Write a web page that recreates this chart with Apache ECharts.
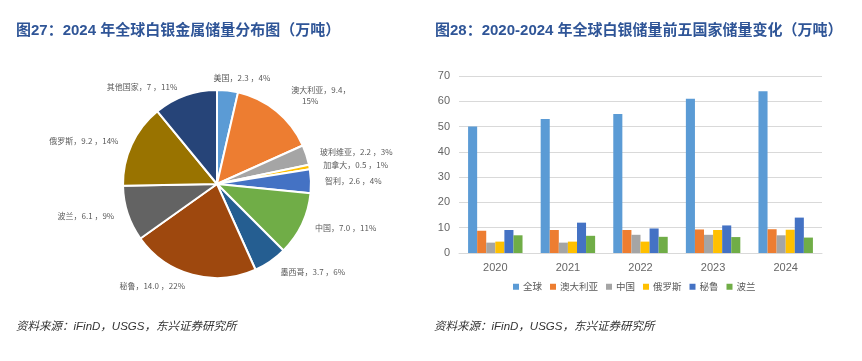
<!DOCTYPE html>
<html>
<head>
<meta charset="utf-8">
<script src="https://cdn.jsdelivr.net/npm/echarts@6/dist/echarts.min.js"></script>
<style>
html,body{margin:0;padding:0;background:#fff;}
#c{width:862px;height:361px;}
</style>
</head>
<body>
<div id="c"></div>
<script>
// ---- Left: pie data ----
const pieNames = ['美国','澳大利亚','玻利维亚','加拿大','智利','中国','墨西哥','秘鲁','波兰','俄罗斯','其他国家'];
const pieValues = [2.3, 9.4, 2.2, 0.5, 2.6, 7.0, 3.7, 14.0, 6.1, 9.2, 7];
const pieValueText = ['2.3','9.4','2.2','0.5','2.6','7.0','3.7','14.0','6.1','9.2','7'];
const pieColors = ['#5B9BD5','#ED7D31','#A5A5A5','#FFC000','#4472C4','#70AD47','#255E91','#9E480E','#636363','#997300','#264478'];

// ---- Right: bar data ----
const years = ['2020','2021','2022','2023','2024'];
const barSeriesNames = ['全球','澳大利亚','中国','俄罗斯','秘鲁','波兰'];
const globalVals    = [50, 53, 55, 61, 64];
const australiaVals = [8.8, 9.1, 9.1, 9.3, 9.4];
const chinaVals     = [4.1, 4.1, 7.2, 7.2, 7.0];
const russiaVals    = [4.5, 4.5, 4.5, 9.1, 9.2];
const peruVals      = [9.1, 12.0, 9.7, 10.9, 14.0];
const polandVals    = [7.0, 6.8, 6.4, 6.3, 6.1];
const barColors = ['#5B9BD5','#ED7D31','#A5A5A5','#FFC000','#4472C4','#70AD47'];
const yTicks = [0,10,20,30,40,50,60,70];

const titleLeft = '图27：2024 年全球白银金属储量分布图（万吨）';
const titleRight = '图28：2020-2024 年全球白银储量前五国家储量变化（万吨）';
const sourceText = '资料来源：iFinD，USGS，东兴证券研究所';

const barData = [globalVals, australiaVals, chinaVals, russiaVals, peruVals, polandVals];

const chart = echarts.init(document.getElementById('c'), null, {renderer:'canvas'});
const titleStyle = {fontSize:15, fontWeight:'bold', color:'#2F5597', fontFamily:'Liberation Sans, Noto Sans CJK SC'};
const srcStyle = {fontSize:11.5, fontStyle:'italic', color:'#333', fontWeight:'normal', fontFamily:'Liberation Sans, Noto Sans CJK SC'};

const option = {
  animation:false,
  backgroundColor:'#fff',
  title:[
    {text:titleLeft, left:16, top:23, padding:0, textStyle:titleStyle},
    {text:titleRight, left:435, top:23, padding:0, textStyle:titleStyle},
    {text:sourceText, left:16, top:321, padding:0, textStyle:srcStyle},
    {text:sourceText, left:434, top:321, padding:0, textStyle:srcStyle}
  ],
  legend:{
    data:barSeriesNames,
    top:282,
    left:513,
    padding:0,
    icon:'rect', itemWidth:6, itemHeight:6, itemGap:8,
    textStyle:{fontSize:9.5, color:'#595959', fontFamily:'Noto Sans CJK SC', padding:[0,0,0,-1]}
  },
  grid:{left:459, right:40, top:76, bottom:108},
  xAxis:{
    type:'category', data:years,
    axisLine:{lineStyle:{color:'#D9D9D9'}},
    axisTick:{show:false},
    axisLabel:{color:'#666', fontSize:11, margin:9, fontFamily:'Liberation Sans'}
  },
  yAxis:{
    type:'value', min:0, max:70, interval:10,
    axisLine:{show:false}, axisTick:{show:false},
    splitLine:{lineStyle:{color:'#D9D9D9'}},
    axisLabel:{color:'#666', fontSize:11, margin:9, fontFamily:'Liberation Sans',
      formatter:function(v){return yTicks.indexOf(v)>=0 ? String(v) : '';}}
  },
  series:[
    {
      type:'pie',
      center:[217,184],
      radius:94,
      startAngle:90,
      clockwise:true,
      percentPrecision:0,
      avoidLabelOverlap:true,
      itemStyle:{borderColor:'#fff', borderWidth:2},
      label:{
        show:true, position:'outside', color:'#595959', fontSize:8,
        fontFamily:'Noto Sans CJK SC', lineHeight:11,
        formatter:function(p){
          const v = pieValueText[p.dataIndex];
          if (p.name === '澳大利亚') return p.name + '，' + v + '，\n      ' + p.percent + '%';
          return p.name + '，' + v + ' ，' + p.percent + '%';
        }
      },
      labelLine:{show:false, length:9, length2:0},
      labelLayout:function(p){
        if (p.dataIndex === 0) return {dx:-20, dy:-4};
        if (p.dataIndex === 1) return {dx:4, dy:-9};
        if (p.dataIndex === 6 || p.dataIndex === 7) return {dy:3};
        return {};
      },
      data:pieNames.map(function(n,i){return {name:n, value:pieValues[i], itemStyle:{color:pieColors[i]}};})
    }
  ].concat(barSeriesNames.map(function(n,i){
    return {
      name:n, type:'bar', data:barData[i],
      barGap:'0%', barCategoryGap:'25%',
      itemStyle:{color:barColors[i]}
    };
  }))
};
chart.setOption(option);
</script>
</body>
</html>
